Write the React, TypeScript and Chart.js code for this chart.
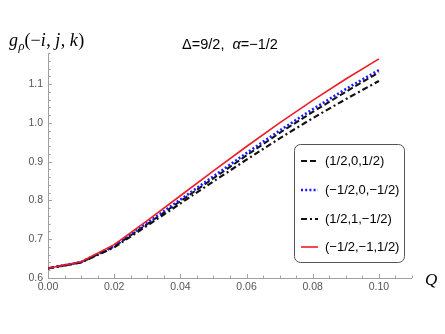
import React, { useEffect, useRef } from "react";
import { Chart, registerables } from "chart.js";

Chart.register(...registerables);

// ---- data ----
const qValues = [0, 0.01, 0.02, 0.03, 0.04, 0.05, 0.06, 0.07, 0.08, 0.09, 0.1];
const seriesLabels = ["(1/2,0,1/2)", "(\u22121/2,0,\u22121/2)", "(1/2,1,\u22121/2)", "(\u22121/2,\u22121,1/2)"];
const dashedBlack = [0.625, 0.640, 0.681, 0.739, 0.798, 0.857, 0.916, 0.974, 1.028, 1.080, 1.130];
const dottedBlue = [0.625, 0.641, 0.683, 0.742, 0.802, 0.862, 0.922, 0.980, 1.035, 1.087, 1.136];
const dashDotBlack = [0.625, 0.640, 0.679, 0.735, 0.792, 0.849, 0.905, 0.960, 1.012, 1.061, 1.108];
const solidRed = [0.625, 0.642, 0.686, 0.748, 0.812, 0.876, 0.939, 1.000, 1.058, 1.113, 1.165];
const xMajorTicks = [0, 0.02, 0.04, 0.06, 0.08, 0.1];
const yMajorTicks = [0.6, 0.7, 0.8, 0.9, 1.0, 1.1];
const titleText = "\u0394=9/2,  ";
const titleAlpha = "\u03b1";
const titleRest = "=\u22121/2";

const SANS = "'Liberation Sans', Arial, Helvetica, sans-serif";
const SERIF = "'Liberation Serif', 'Times New Roman', serif";

const styles = [
  { color: "#111111", width: 2, dash: [6, 3] },
  { color: "#1a1aff", width: 2.6, dash: [2, 2.2] },
  { color: "#111111", width: 2.2, dash: [6, 3, 2, 3] },
  { color: "#ee1c25", width: 1.6, dash: [] as number[] },
];

const mmaPlugin = {
  id: "mmaPlugin",
  beforeDatasetsDraw(chart: any) {
    const { ctx, chartArea, scales } = chart;
    const xs = scales.x;
    const ys = scales.y;
    ctx.save();
    ctx.strokeStyle = "#a0a0a0";
    ctx.lineWidth = 1;
    ctx.beginPath();
    ctx.moveTo(chartArea.left + 0.5, chartArea.top);
    ctx.lineTo(chartArea.left + 0.5, chartArea.bottom + 0.5);
    ctx.lineTo(chartArea.right, chartArea.bottom + 0.5);
    ctx.stroke();
    for (let k = 0; k <= 22; k++) {
      const v = k * 0.005;
      const px = Math.round(xs.getPixelForValue(v)) + 0.5;
      const len = k % 4 === 0 ? 4 : 2.5;
      ctx.beginPath();
      ctx.moveTo(px, chartArea.bottom);
      ctx.lineTo(px, chartArea.bottom - len);
      ctx.stroke();
    }
    for (let k = 0; k <= 29; k++) {
      const v = 0.6 + k * 0.02;
      const py = Math.round(ys.getPixelForValue(v)) + 0.5;
      if (py < chartArea.top) break;
      const len = k % 5 === 0 ? 4 : 2.5;
      ctx.beginPath();
      ctx.moveTo(chartArea.left, py);
      ctx.lineTo(chartArea.left + len, py);
      ctx.stroke();
    }
    ctx.restore();
  },
  afterDraw(chart: any) {
    const { ctx } = chart;
    ctx.save();
    ctx.fillStyle = "#000";
    ctx.textBaseline = "alphabetic";
    ctx.font = `14.5px ${SANS}`;
    const w1 = ctx.measureText(titleText).width;
    ctx.font = `italic 14.5px ${SANS}`;
    const w2 = ctx.measureText(titleAlpha).width;
    ctx.font = `14.5px ${SANS}`;
    const w3 = ctx.measureText(titleRest).width;
    let tx = 230 - (w1 + w2 + w3) / 2;
    const ty = 49;
    ctx.fillText(titleText, tx, ty);
    tx += w1;
    ctx.font = `italic 14.5px ${SANS}`;
    ctx.fillText(titleAlpha, tx, ty);
    tx += w2;
    ctx.font = `14.5px ${SANS}`;
    ctx.fillText(titleRest, tx, ty);

    const parts: [string, string][] = [
      ["g", "italic"],
      ["\u03c1", "italic-sub"],
      ["(", "normal"],
      ["\u2212", "normal"],
      ["i", "italic"],
      [", ", "normal"],
      ["j", "italic"],
      [", ", "normal"],
      ["k", "italic"],
      [")", "normal"],
    ];
    let lx = 9;
    const ly = 46;
    for (const [t, st] of parts) {
      if (st === "italic-sub") {
        ctx.font = `italic 12.5px ${SERIF}`;
        ctx.fillText(t, lx, ly + 3.5);
      } else {
        ctx.font = `${st === "italic" ? "italic " : ""}18px ${SERIF}`;
        ctx.fillText(t, lx, ly);
      }
      lx += ctx.measureText(t).width + (st === "italic" ? 0.5 : 0);
    }

    ctx.font = `italic 17px ${SERIF}`;
    ctx.fillText("Q", 425, 285);

    const bx = 294.5, by = 144.5, bw = 110, bh = 118, r = 6;
    ctx.beginPath();
    ctx.moveTo(bx + r, by);
    ctx.lineTo(bx + bw - r, by);
    ctx.arcTo(bx + bw, by, bx + bw, by + r, r);
    ctx.lineTo(bx + bw, by + bh - r);
    ctx.arcTo(bx + bw, by + bh, bx + bw - r, by + bh, r);
    ctx.lineTo(bx + r, by + bh);
    ctx.arcTo(bx, by + bh, bx, by + bh - r, r);
    ctx.lineTo(bx, by + r);
    ctx.arcTo(bx, by, bx + r, by, r);
    ctx.closePath();
    ctx.fillStyle = "#ffffff";
    ctx.fill();
    ctx.strokeStyle = "#555555";
    ctx.lineWidth = 1;
    ctx.stroke();

    const rowsY = [161, 190, 219, 247];
    seriesLabels.forEach((lab, i) => {
      const st = styles[i];
      const yy = rowsY[i];
      ctx.beginPath();
      ctx.strokeStyle = st.color;
      ctx.lineWidth = st.width;
      ctx.setLineDash(st.dash);
      ctx.moveTo(301, yy);
      ctx.lineTo(318, yy);
      ctx.stroke();
      ctx.setLineDash([]);
      ctx.fillStyle = "#000";
      ctx.font = `13px ${SANS}`;
      ctx.textBaseline = "middle";
      ctx.fillText(lab, 325, yy);
    });
    ctx.restore();
  },
};

export default function App() {
  const ref = useRef<HTMLCanvasElement | null>(null);
  useEffect(() => {
    if (!ref.current) return;
    const allSeries = [dashedBlack, dottedBlue, dashDotBlack, solidRed];
    const orders = [3, 2, 1, 0];
    const chart = new Chart(ref.current, {
      type: "line",
      data: {
        datasets: allSeries.map((s, i) => ({
          label: seriesLabels[i],
          data: qValues.map((q, j) => ({ x: q, y: s[j] })),
          borderColor: styles[i].color,
          borderWidth: styles[i].width,
          borderDash: styles[i].dash,
          pointRadius: 0,
          tension: 0,
          fill: false,
          order: orders[i],
        })),
      },
      options: {
        animation: false,
        responsive: false,
        maintainAspectRatio: false,
        layout: { padding: { left: 0, right: 33, top: 53, bottom: 0 } },
        plugins: { legend: { display: false }, tooltip: { enabled: false }, title: { display: false } },
        scales: {
          x: {
            type: "linear",
            min: 0,
            max: 0.11,
            border: { display: false },
            grid: { display: false, drawTicks: false },
            afterFit: (s: any) => { s.height = 56; },
            afterBuildTicks: (s: any) => { s.ticks = xMajorTicks.map((v) => ({ value: v })); },
            ticks: {
              padding: 3,
              color: "#555",
              font: { family: SANS, size: 10.5 },
              maxRotation: 0,
              autoSkip: false,
              callback: (v: any) => Number(v).toFixed(2),
            },
          },
          y: {
            type: "linear",
            min: 0.6,
            max: 1.18,
            border: { display: false },
            grid: { display: false, drawTicks: false },
            afterFit: (s: any) => { s.width = 48; },
            afterBuildTicks: (s: any) => { s.ticks = yMajorTicks.map((v) => ({ value: v })); },
            ticks: {
              padding: 5,
              color: "#555",
              font: { family: SANS, size: 10.5 },
              autoSkip: false,
              callback: (v: any) => Number(v).toFixed(1),
            },
          },
        },
      },
      plugins: [mmaPlugin],
    } as any);
    return () => chart.destroy();
  }, []);
  return (
    <div style={{ position: "fixed", left: 0, top: 0, width: 445, height: 334, background: "#fff" }}>
      <canvas ref={ref} width={445} height={334} style={{ width: 445, height: 334, display: "block" }} />
    </div>
  );
}
